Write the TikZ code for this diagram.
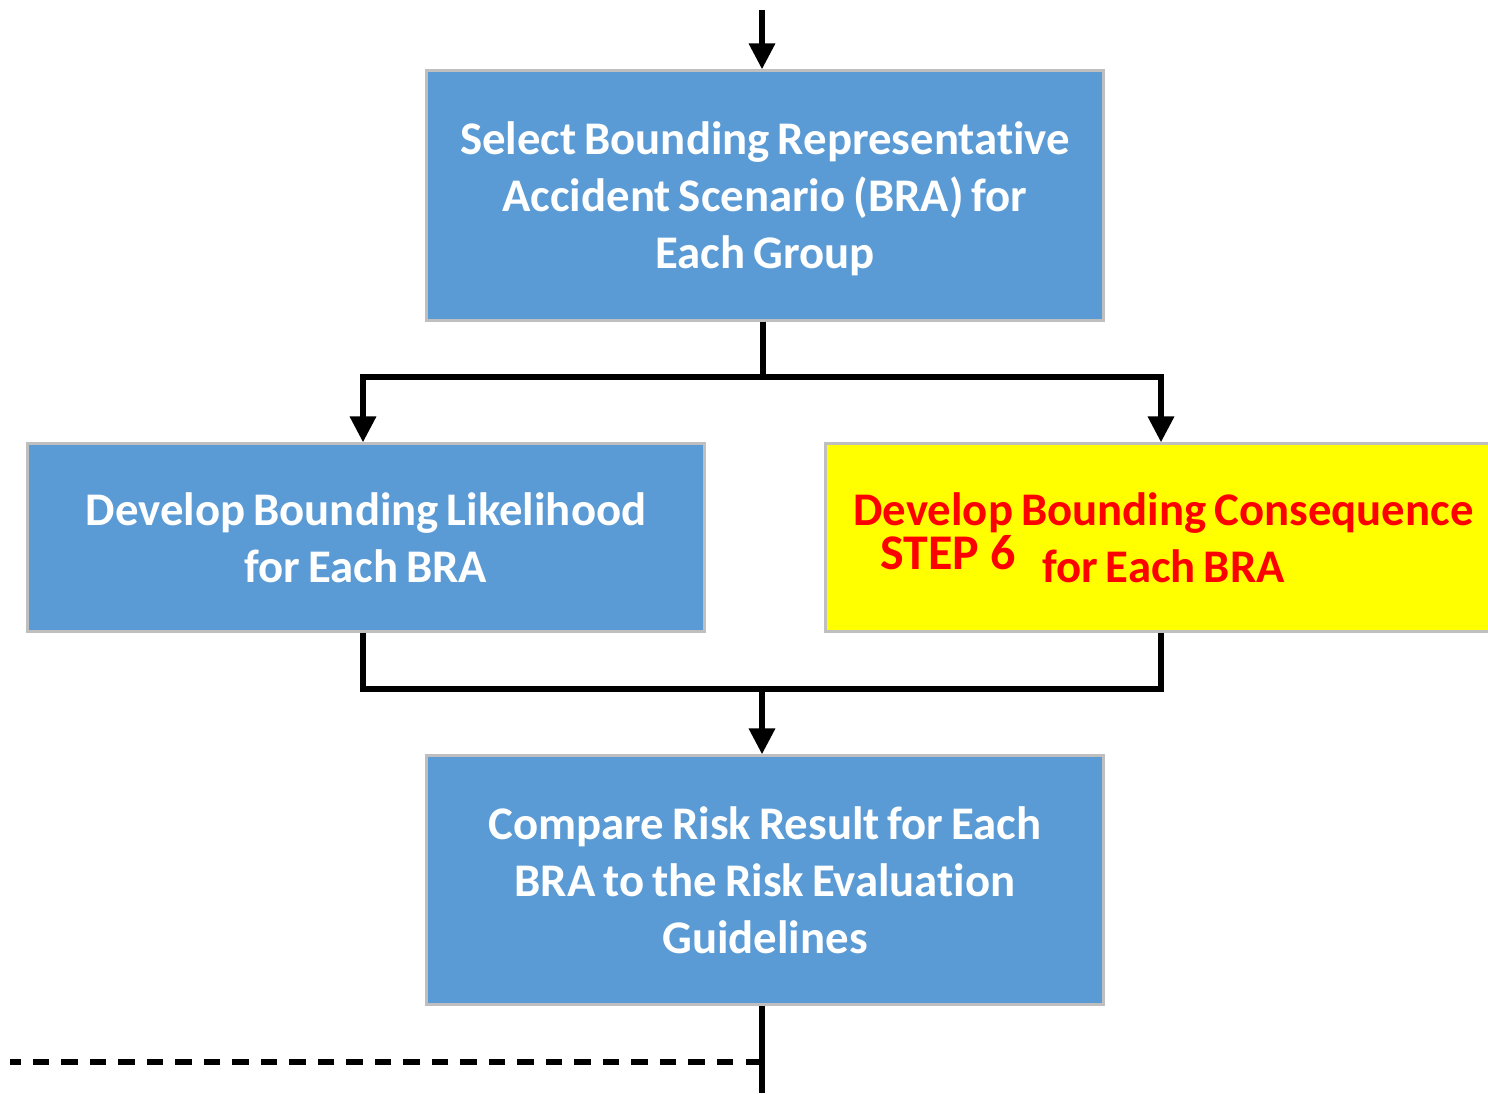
\documentclass[tikz,border=0pt]{standalone}
\usepackage{fontspec}
\setmainfont{Carlito}[Ligatures=NoCommon]
\usetikzlibrary{arrows.meta}
\definecolor{boxblue}{HTML}{5B9BD5}
\definecolor{boxedge}{HTML}{BFBFBF}
\definecolor{hilite}{HTML}{FFFF00}
\definecolor{redtext}{HTML}{FF0000}
\newcommand{\boxfont}{\fontsize{13.3}{16.2}\selectfont\bfseries\spaceskip=0.17em plus 0.05em\relax}
\begin{document}
\begin{tikzpicture}[x=0.01cm,y=-0.01cm,
  stepbox/.style={draw=boxedge,line width=0.03cm,fill=boxblue,text=white,
    minimum width=6.76cm,inner sep=0pt,align=center,text depth=0pt,
    font=\boxfont},
  conn/.style={line width=0.062cm},
  arr/.style={line width=0.062cm,-{Triangle[width=0.25cm,length=0.26cm]}}]
\clip (0,0) rectangle (1488,1093);
\fill[white] (0,0) rectangle (1488,1093);

% process boxes
\node[stepbox,minimum height=2.49cm] (sel) at (765,195.5)
  {Select Bounding Representative\\Accident Scenario (BRA) for\\Each Group};
\node[stepbox,minimum height=1.87cm] (lik) at (366,537.5)
  {Develop Bounding Likelihood\\for Each BRA};
\node[stepbox,minimum height=1.87cm,fill=hilite,text=redtext] (con) at (1163.5,537.5)
  {Develop Bounding Consequence\\for Each BRA};
\node[text=redtext,font=\fontsize{14.2}{17}\selectfont\bfseries,inner sep=0pt] (stp) at (948,553) {STEP 6};
\node[stepbox,minimum height=2.48cm] (cmp) at (765,880)
  {Compare Risk Result for Each\\BRA to the Risk Evaluation\\Guidelines};

% junction points
\coordinate (in) at (762,10);
\coordinate (s1) at (763,377);
\coordinate (sl) at (363,377);
\coordinate (sr) at (1161,377);
\coordinate (ml) at (363,689);
\coordinate (mr) at (1161,689);
\coordinate (m1) at (762,689);
\coordinate (out) at (762,1093);
\coordinate (d1) at (762,1062);
\coordinate (d0) at (10,1062);

% connectors
\draw[arr] (in) -- (in |- sel.north);
\draw[conn] (sel.south -| s1) -- (s1);
\draw[conn] ([xshift=-0.031cm]sl) -- ([xshift=0.031cm]sr);
\draw[arr] (sl) -- (sl |- lik.north);
\draw[arr] (sr) -- (sr |- con.north);
\draw[conn,line join=miter] (ml |- lik.south) -- (ml) -- (mr) -- (mr |- con.south);
\draw[arr] (m1) -- (m1 |- cmp.north);
\draw[conn] (cmp.south -| out) -- (out);
\draw[conn,dash pattern=on 0.165cm off 0.12cm] (d1) -- (d0);
\end{tikzpicture}
\end{document}
